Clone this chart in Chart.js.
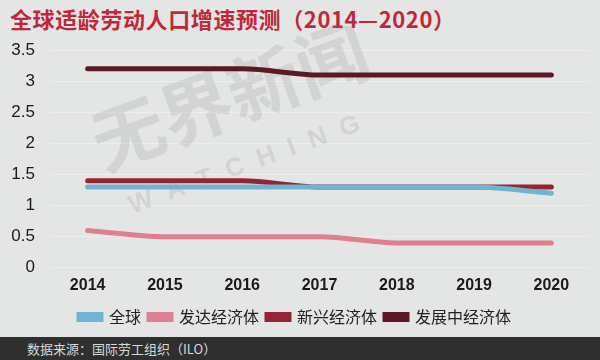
<!DOCTYPE html>
<html>
<head>
<meta charset="utf-8">
<script src="https://cdn.jsdelivr.net/npm/chart.js@4"></script>
<style>
  body { margin: 0; background: #e4e5e5; }
  #wrap { position: relative; width: 600px; height: 360px; overflow: hidden; background: #e4e5e5; }
  #title { position: absolute; left: 10px; top: 4px; font: bold 22px "Noto Sans CJK SC", sans-serif; line-height: 28px; color: #c0283a; letter-spacing: 0.6px; }
  #chartBox { position: absolute; left: 0; top: 26px; width: 600px; height: 311px; }
  #foot { position: absolute; left: 0; top: 337px; width: 600px; height: 23px; background: #2f2f2f; color: #d8d8d8; font: 13px "Noto Sans CJK SC", sans-serif; line-height: 23px; padding-left: 27px; box-sizing: border-box; }
</style>
</head>
<body>
<div id="wrap">
  <div id="title">全球适龄劳动人口增速预测（2014—2020）</div>
  <div id="chartBox"><canvas id="chartArea" width="600" height="311"></canvas></div>
  <div id="foot">数据来源：国际劳工组织（ILO）</div>
</div>
<script>
var years = ['2014', '2015', '2016', '2017', '2018', '2019', '2020']
var seriesNames = ['全球', '发达经济体', '新兴经济体', '发展中经济体']
var globalVals = [1.3, 1.3, 1.3, 1.3, 1.3, 1.3, 1.2]
var advancedVals = [0.6, 0.5, 0.5, 0.5, 0.4, 0.4, 0.4]
var emergingVals = [1.4, 1.4, 1.4, 1.3, 1.3, 1.3, 1.3]
var developingVals = [3.2, 3.2, 3.2, 3.1, 3.1, 3.1, 3.1]
var colors = ['#6db5d1', '#e0808f', '#962435', '#5c1824']

// faint watermark behind the lines
var watermark = {
  id: 'watermark',
  beforeDatasetsDraw(chart) {
    var ctx = chart.ctx
    ctx.save()
    ctx.translate(230, 70)
    ctx.rotate(-20 * Math.PI / 180)
    ctx.fillStyle = 'rgba(140,140,140,0.2)'
    ctx.font = 'bold 72px "Noto Sans CJK SC"'
    ctx.textAlign = 'center'
    ctx.textBaseline = 'middle'
    ctx.fillText('无界新闻', 0, 0)
    ctx.font = 'bold 26px "Liberation Sans"'
    ctx.fillText('W  A  T  C  H  I  N  G', -10, 70)
    ctx.restore()
  }
}

var allVals = [globalVals, advancedVals, emergingVals, developingVals]
var datasets = []
for (var i = 0; i < allVals.length; i++) {
  datasets.push({
    label: seriesNames[i],
    data: allVals[i],
    borderColor: colors[i],
    backgroundColor: colors[i],
    borderWidth: 5,
    borderCapStyle: 'round',
    pointRadius: 0,
    cubicInterpolationMode: 'monotone'
  })
}

var ctx = document.getElementById('chartArea').getContext('2d')
var myChart = new Chart(ctx, {
  type: 'line',
  data: { labels: years, datasets: datasets },
  plugins: [watermark],
  options: {
    responsive: false,
    animation: false,
    layout: { padding: { top: 6, right: 10, left: 0, bottom: 2 } },
    plugins: {
      tooltip: { enabled: false },
      legend: {
        position: 'bottom',
        labels: {
          boxWidth: 22,
          boxHeight: 5,
          padding: 8,
          color: '#222',
          font: { size: 16, family: '"Noto Sans CJK SC"' }
        }
      }
    },
    scales: {
      x: {
        offset: true,
        afterFit(scale) { scale.height += 6 },
        grid: { display: false },
        border: { display: false },
        ticks: { color: '#1a1a1a', padding: 0, font: { size: 16, weight: 'bold', family: '"Liberation Sans"' } }
      },
      y: {
        min: 0,
        max: 3.5,
        afterFit(scale) { scale.width = 49 },
        grid: { color: '#eeeeee', drawTicks: false },
        border: { display: false },
        ticks: {
          stepSize: 0.5,
          color: '#1a1a1a',
          padding: 14,
          font: { size: 17, family: '"Liberation Sans"' },
          callback: function (v) { return String(v) }
        }
      }
    }
  }
})
</script>
</body>
</html>
